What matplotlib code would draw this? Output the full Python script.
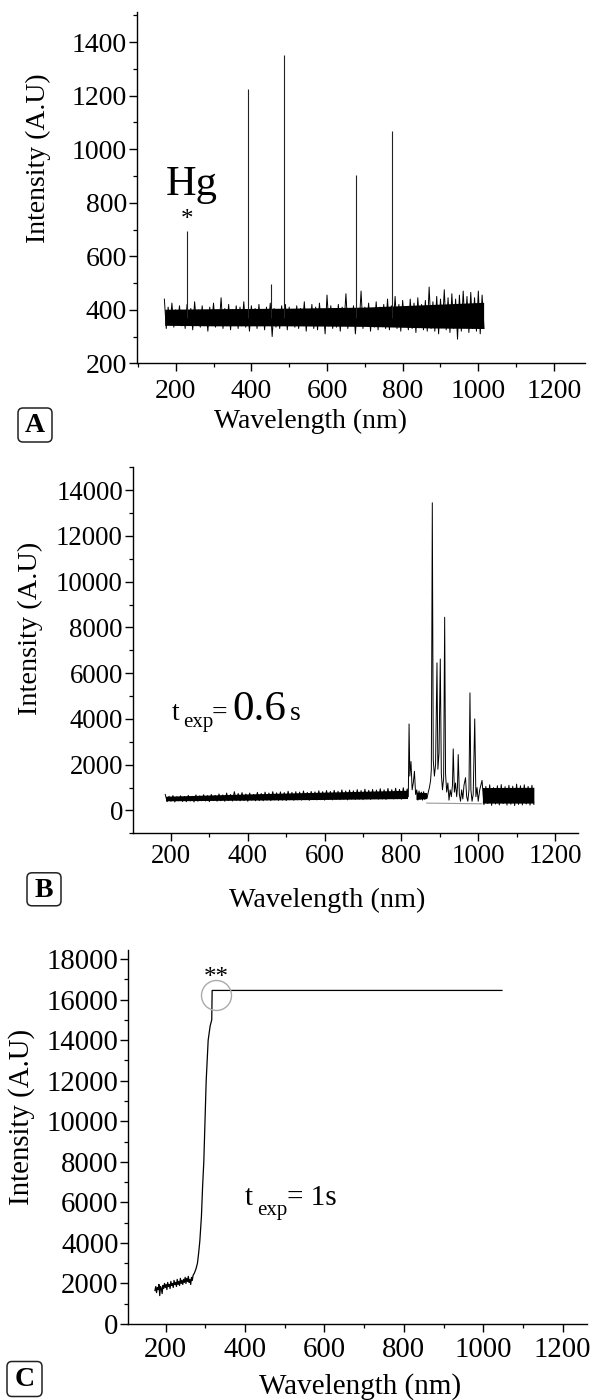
import numpy as np
import matplotlib
matplotlib.use("Agg")
import matplotlib.pyplot as plt
from matplotlib.ticker import MultipleLocator
from matplotlib.patches import FancyBboxPatch

plt.rcParams['font.family'] = ['Liberation Serif', 'DejaVu Serif']

W, H = 601, 1400

# ---------------- data ----------------
# Panel A : Hg lamp spectrum (noise baseline + emission lines)
wl_A = np.arange(170, 1016, 5)
int_A = [440, 330, 410, 345, 425, 335, 400, 350, 415, 340,
         395, 330, 420, 345, 405, 325, 430, 350, 400, 335,
         415, 340, 395, 320, 410, 350, 425, 335, 400, 345,
         445, 330, 405, 340, 420, 325, 400, 345, 415, 330,
         410, 340, 430, 335, 395, 320, 415, 345, 405, 330,
         420, 340, 400, 325, 410, 345, 425, 300, 405, 335,
         400, 330, 415, 345, 420, 325, 410, 340, 395, 335,
         415, 330, 405, 345, 430, 320, 400, 340, 420, 330,
         410, 325, 425, 345, 400, 310, 455, 340, 415, 330,
         405, 335, 420, 320, 410, 345, 460, 330, 400, 340,
         415, 310, 405, 340, 470, 330, 410, 345, 425, 320,
         400, 335, 430, 325, 410, 345, 420, 330, 440, 325,
         415, 340, 450, 330, 420, 320, 435, 345, 410, 325,
         440, 330, 425, 315, 445, 340, 420, 325, 435, 320,
         485, 330, 430, 320, 450, 310, 440, 335, 475, 325,
         445, 315, 460, 330, 440, 290, 455, 320, 470, 335,
         450, 315, 465, 330, 445, 320, 470, 310, 455, 330]
# dense core of the noise band (lower / upper edge)
core_wl_A = [171, 300, 500, 700, 880, 1014]
core_lo_A = [342, 340, 340, 338, 332, 330]
core_hi_A = [402, 404, 406, 410, 420, 428]
baseline_A = 370
peak_wl_A = [231, 391, 452, 486, 677, 773]
peak_int_A = [696, 1224, 496, 1353, 904, 1068]

# Panel B : t_exp = 0.6 s
wl_B1 = np.arange(185, 816, 5)
int_B1 = [700, 380, 620, 400, 650, 370, 600, 420, 640, 390,
          610, 380, 660, 410, 620, 370, 680, 400, 640, 420,
          690, 410, 650, 380, 700, 430, 660, 400, 720, 420,
          680, 400, 760, 430, 700, 410, 820, 440, 740, 420,
          780, 430, 720, 400, 760, 450, 700, 420, 790, 430,
          740, 420, 800, 450, 760, 430, 820, 460, 770, 440,
          810, 450, 780, 430, 840, 470, 790, 440, 820, 460,
          800, 450, 850, 470, 790, 440, 830, 480, 810, 460,
          860, 470, 820, 450, 870, 490, 830, 460, 880, 480,
          840, 470, 900, 490, 850, 460, 890, 500, 860, 480,
          910, 490, 870, 470, 930, 500, 880, 480, 920, 510,
          890, 490, 950, 500, 900, 480, 960, 520, 910, 500,
          970, 510, 920, 490, 990, 520, 940]
wl_B2 = [818, 820, 822, 825, 828, 831, 834, 837, 840, 843, 846, 849, 852, 855,
         858, 861, 864, 867, 870, 873, 876, 878, 880.5, 883, 886, 889, 892.7,
         895, 898, 901.3, 904, 907, 910, 912.7, 915, 918, 921, 924, 927, 930,
         933, 935, 938, 941, 944, 946, 948, 951, 954, 957, 960, 963, 967, 970,
         973, 976, 978.6, 981, 984, 987, 991, 994, 997, 1000, 1004]
int_B2 = [600, 3780, 1500, 2140, 900, 1200, 1710, 700, 900, 450, 850, 500, 800, 450,
          820, 480, 700, 550, 800, 1000, 1300, 1800, 13450, 2200, 1500, 2000, 6450,
          1800, 2500, 6620, 1600, 900, 1400, 8445, 1600, 800, 1200, 450, 900, 600,
          1100, 2690, 800, 1200, 600, 1000, 2440, 700, 400, 900, 500, 1100, 1430, 600,
          400, 900, 5140, 900, 400, 700, 4000, 600, 1000, 400, 900]
wl_B3 = np.arange(1010, 1146, 5)
int_B3 = [1310, 250, 1050, 300, 1120, 220, 1000, 280, 1080, 240,
          1130, 300, 1040, 230, 1100, 270, 1060, 210, 1150, 260,
          1080, 240, 1120, 280, 1050, 230, 1100, 260]
# dense core of the noise band, three stretches
core_wl_B1 = [186, 400, 600, 816]
core_lo_B1 = [420, 450, 480, 520]
core_hi_B1 = [620, 720, 800, 880]
core_wl_B2 = [838, 866]
core_lo_B2 = [480, 520]
core_hi_B2 = [800, 780]
core_wl_B3 = [1011, 1145]
core_lo_B3 = [320, 320]
core_hi_B3 = [1000, 1010]
bg_wl_B = [866, 1009]
bg_int_B = [320, 290]

# Panel C : t_exp = 1 s (saturated)
wl_C1 = np.arange(173, 270, 2)
int_C1 = [1650, 1850, 1550, 1800, 1700, 1950, 1400, 1850, 1750, 1500,
          1900, 1750, 2000, 1800, 1950, 1700, 2050, 1850, 1950, 1750,
          2100, 1900, 2000, 1800, 2150, 1950, 2050, 1850, 2200, 1950,
          2100, 1900, 2250, 2000, 2150, 1950, 2200, 2050, 2300, 2000,
          2250, 2100, 2350, 2050, 2200, 1950, 2300, 2150, 2400]
wl_C2 = [272, 276, 280, 283, 286, 290, 293, 296, 299, 302, 307, 312, 316, 317, 1047]
int_C2 = [2500, 2700, 3000, 3500, 4100, 5300, 6800, 8000, 10000, 12000, 14000,
          14700, 15000, 16450, 16450]
sat_wl_C, sat_int_C = 326.7, 16224

xticks = [200, 400, 600, 800, 1000, 1200]

# ---------------- figure ----------------
fig = plt.figure(figsize=(W / 100, H / 100), dpi=100)
IN = fig.dpi_scale_trans


def P(x, y):
    return (x / 100.0, (H - y) / 100.0)


def add_ax(left, right, top, bottom):
    return fig.add_axes([left / W, 1 - bottom / H, (right - left) / W, (bottom - top) / H])


def style(ax, fs, pad_x):
    for s in ['top', 'right']:
        ax.spines[s].set_visible(False)
    for s in ['left', 'bottom']:
        ax.spines[s].set_linewidth(1.0)
    ax.set_xticks(xticks)
    ax.xaxis.set_minor_locator(MultipleLocator(100))
    ax.tick_params(which='major', direction='out', length=5.8, width=1.0, labelsize=fs)
    ax.tick_params(which='minor', direction='out', length=3.0, width=0.9)
    ax.tick_params(axis='x', which='major', pad=pad_x)
    ax.tick_params(axis='y', which='major', pad=1.2)
    ax.set_facecolor('none')


def box_label(letter, cx, cy, w, h):
    x0, y0 = P(cx - w / 2, cy + h / 2)
    patch = FancyBboxPatch((x0, y0), w / 100, h / 100,
                           boxstyle='round,pad=0,rounding_size=0.05',
                           transform=IN, fill=False, ec='#222222', lw=1.1)
    fig.patches.append(patch)
    fig.text(*P(cx, cy + 1), letter, transform=IN, ha='center', va='center',
             fontsize=20, fontweight='bold')


# ---- Panel A ----
axA = add_ax(136.7, 585, 11.7, 363.3)
axA.fill_between(core_wl_A, core_lo_A, core_hi_A, color='black', lw=0)
axA.plot(wl_A, int_A, color='black', lw=0.7)
axA.vlines(peak_wl_A, baseline_A, peak_int_A, color='#222222', lw=0.8)
axA.set_xlim(96.9, 1282)
axA.set_ylim(200, 1514)
style(axA, 20, 5.5)
axA.yaxis.set_major_locator(plt.FixedLocator([200, 400, 600, 800, 1000, 1200, 1400]))
axA.yaxis.set_minor_locator(MultipleLocator(100))
fig.text(*P(38, 158.5), 'Intensity (A.U)', transform=IN, rotation=90,
         ha='center', va='center', fontsize=20)
fig.text(*P(310.5, 421.7), 'Wavelength (nm)', transform=IN,
         ha='center', va='center', fontsize=20)
fig.text(*P(166, 195), 'Hg', transform=IN, ha='left', va='baseline', fontsize=30.5)
fig.text(*P(187, 226.5), '*', transform=IN, ha='center', va='baseline', fontsize=18)
box_label('A', 35, 425, 34, 34)

# ---- Panel B ----
axB = add_ax(132.7, 578.3, 467.3, 833.3)
wl_B = np.concatenate([wl_B1, wl_B2, wl_B3])
int_B = np.concatenate([int_B1, int_B2, int_B3])
axB.plot(bg_wl_B, bg_int_B, color='#9a9a9a', lw=0.8)
for cw, cl, ch in [(core_wl_B1, core_lo_B1, core_hi_B1),
                   (core_wl_B2, core_lo_B2, core_hi_B2),
                   (core_wl_B3, core_lo_B3, core_hi_B3)]:
    axB.fill_between(cw, cl, ch, color='black', lw=0)
axB.plot(wl_B, int_B, color='black', lw=0.7)
axB.set_xlim(100.3, 1260.7)
axB.set_ylim(-1000, 15000)
style(axB, 19.3, 2.0)
axB.yaxis.set_major_locator(plt.FixedLocator(list(range(0, 14001, 2000))))
axB.yaxis.set_minor_locator(MultipleLocator(1000))
fig.text(*P(30.7, 628), 'Intensity (A.U)', transform=IN, rotation=90,
         ha='center', va='center', fontsize=20.4)
fig.text(*P(327, 900), 'Wavelength (nm)', transform=IN,
         ha='center', va='center', fontsize=20.3)
fig.text(*P(171.7, 720), 't', transform=IN, ha='left', va='baseline', fontsize=20)
fig.text(*P(183.3, 727), 'exp', transform=IN, ha='left', va='baseline', fontsize=15)
fig.text(*P(212, 720), '=', transform=IN, ha='left', va='baseline', fontsize=20)
fig.text(*P(232, 720), '0.6', transform=IN, ha='left', va='baseline', fontsize=31)
fig.text(*P(290, 720), 's', transform=IN, ha='left', va='baseline', fontsize=20)
box_label('B', 44, 889.3, 34, 33)

# ---- Panel C ----
axC = add_ax(128.3, 586.7, 950, 1324)
wl_C = np.concatenate([wl_C1, wl_C2])
int_C = np.concatenate([int_C1, int_C2])
axC.plot(wl_C, int_C, color='black', lw=0.9)
axC.plot([sat_wl_C], [sat_int_C], 'o', mfc='none', mec='#aaaaaa', mew=1.0, ms=21.6)
axC.set_xlim(105.8, 1260.5)
axC.set_ylim(0, 18444)
style(axC, 20.7, 3.5)
axC.yaxis.set_major_locator(plt.FixedLocator(list(range(0, 18001, 2000))))
axC.yaxis.set_minor_locator(MultipleLocator(1000))
fig.text(*P(21.7, 1116.7), 'Intensity (A.U)', transform=IN, rotation=90,
         ha='center', va='center', fontsize=20.8)
fig.text(*P(360, 1386.7), 'Wavelength (nm)', transform=IN,
         ha='center', va='center', fontsize=21)
fig.text(*P(216.7, 983.5), '**', transform=IN, ha='center', va='baseline', fontsize=18)
fig.text(*P(245, 1205), 't', transform=IN, ha='left', va='baseline', fontsize=21)
fig.text(*P(256.7, 1215), 'exp', transform=IN, ha='left', va='baseline', fontsize=15)
fig.text(*P(287, 1205), '= 1s', transform=IN, ha='left', va='baseline', fontsize=21)
box_label('C', 24.5, 1379, 35, 35)

fig.savefig('out.png', dpi=100, facecolor='white')
